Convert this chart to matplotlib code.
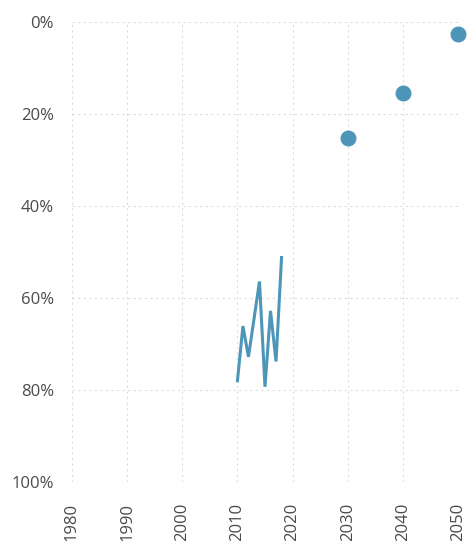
import matplotlib
matplotlib.use("Agg")
import matplotlib.pyplot as plt
from matplotlib.ticker import FuncFormatter

plt.rcParams['font.family'] = ['Open Sans', 'DejaVu Sans']

line_years = [2010, 2011, 2012, 2013, 2014, 2015, 2016, 2017, 2018]
line_values = [78.0, 66.1, 72.8, 64.6, 56.4, 79.3, 62.8, 73.8, 51.2]
target_years = [2030, 2040, 2050]
target_values = [25.3, 15.4, 2.5]
x_ticks = [1980, 1990, 2000, 2010, 2020, 2030, 2040, 2050]
y_ticks = [0, 20, 40, 60, 80, 100]

color = '#4e96b8'
W, H = 467, 541
fig = plt.figure(figsize=(W/100, H/100), dpi=100)
ax = fig.add_axes([72/W, 1-482/H, (458-72)/W, (482-22)/H])

ax.plot(line_years, line_values, color=color, lw=2.2, solid_joinstyle='miter')
ax.scatter(target_years, target_values, s=110, color=color, zorder=3, clip_on=False)

ax.set_xlim(1980, 2050)
ax.set_ylim(100, 0)
ax.set_xticks(x_ticks)
ax.set_yticks(y_ticks)
ax.yaxis.set_major_formatter(FuncFormatter(lambda v, p: f"{int(v)}%"))
ax.tick_params(axis='x', rotation=90, length=0, pad=15, labelsize=12, colors='#4a4a4a')
ax.tick_params(axis='y', length=0, pad=13, labelsize=12, colors='#4a4a4a')
for s in ax.spines.values():
    s.set_visible(False)
ax.grid(True, color='#dcdcdc', linestyle=(0, (2, 3)), lw=0.8)
ax.set_axisbelow(True)

fig.savefig('out.png', dpi=100)
